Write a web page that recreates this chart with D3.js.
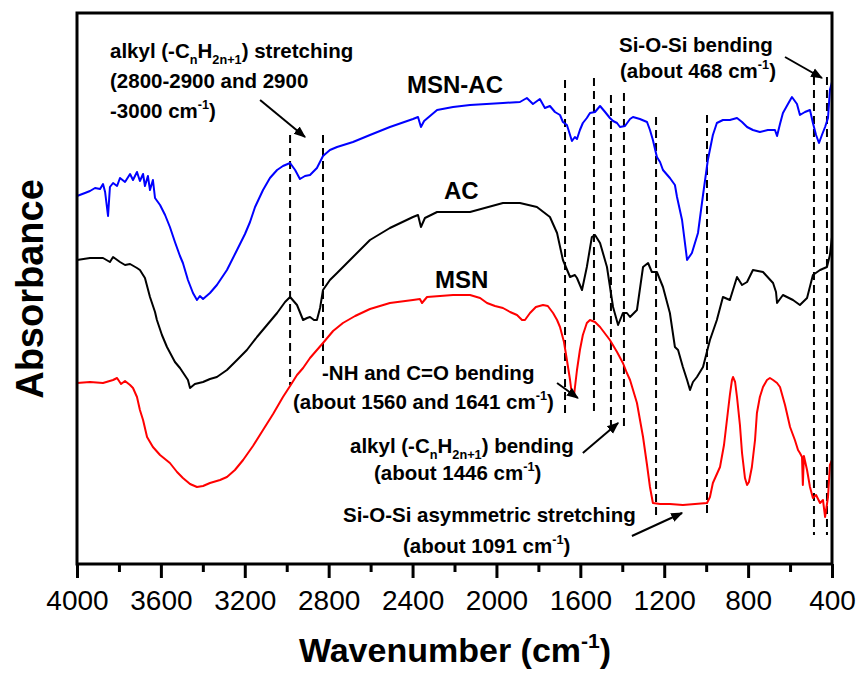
<!DOCTYPE html>
<meta charset="utf-8">
<style>
  body { margin: 0; background: #fff; }
  .chart text { font-family: "Liberation Sans", Arial, sans-serif; fill: #000; }
  .spec { fill: none; stroke-width: 2px; stroke-linejoin: round; }
  .mark { stroke: #000; stroke-width: 2px; stroke-dasharray: 8,5; }
</style>
<body>
<svg class="chart"></svg>
<script src="https://d3js.org/d3.v7.min.js"></script>
<script>
// data: [wavenumber cm-1, absorbance a.u.]
var msnAc = [
  [4000,3.68],[3962,3.71],[3938,3.73],[3914,3.76],[3890,3.75],[3876,3.80],[3866,3.72],[3852,3.48],
  [3843,3.77],[3828,3.81],[3809,3.78],[3795,3.86],[3771,3.82],[3747,3.90],[3733,3.84],[3714,3.92],
  [3700,3.83],[3685,3.90],[3676,3.78],[3662,3.88],[3652,3.74],[3638,3.84],[3628,3.66],[3604,3.59],
  [3580,3.49],[3557,3.37],[3533,3.22],[3509,3.08],[3495,3.01],[3471,2.84],[3447,2.71],[3428,2.64],
  [3414,2.68],[3399,2.65],[3366,2.71],[3333,2.79],[3285,2.94],[3237,3.14],[3199,3.30],[3175,3.42],
  [3151,3.57],[3113,3.74],[3080,3.86],[3046,3.94],[3018,3.98],[2984,4.01],[2960,3.94],[2937,3.85],
  [2913,3.88],[2889,3.89],[2856,3.96],[2827,4.08],[2794,4.14],[2760,4.17],[2684,4.22],[2603,4.29],
  [2508,4.37],[2398,4.45],[2374,4.47],[2360,4.37],[2345,4.43],[2283,4.54],[2207,4.57],[2126,4.59],
  [1969,4.61],[1888,4.62],[1855,4.66],[1826,4.60],[1793,4.65],[1769,4.56],[1745,4.58],[1721,4.52],
  [1697,4.49],[1683,4.42],[1664,4.39],[1649,4.29],[1640,4.23],[1626,4.27],[1616,4.25],[1602,4.34],
  [1588,4.41],[1569,4.46],[1554,4.51],[1530,4.52],[1506,4.58],[1482,4.52],[1459,4.46],[1444,4.43],
  [1425,4.41],[1411,4.37],[1387,4.38],[1363,4.45],[1349,4.47],[1316,4.45],[1282,4.42],[1268,4.34],
  [1254,4.24],[1235,4.07],[1220,4.02],[1206,3.94],[1173,3.86],[1149,3.79],[1139,3.67],[1115,3.44],
  [1091,3.04],[1068,3.11],[1039,3.31],[1015,3.69],[992,4.04],[968,4.29],[949,4.41],[920,4.44],
  [887,4.44],[853,4.46],[829,4.42],[805,4.37],[777,4.34],[744,4.32],[706,4.34],[672,4.34],
  [662,4.28],[648,4.40],[634,4.51],[610,4.60],[591,4.67],[567,4.60],[553,4.49],[529,4.52],
  [505,4.54],[491,4.41],[476,4.29],[462,4.21],[448,4.29],[433,4.37],[419,4.46],[410,4.74],[400,4.82]
];

var ac = [
  [4000,3.04],[3938,3.06],[3876,3.06],[3843,3.02],[3828,3.07],[3795,3.02],[3771,2.99],[3747,3.00],
  [3714,2.96],[3700,2.94],[3676,2.86],[3652,2.67],[3628,2.52],[3619,2.44],[3595,2.29],[3571,2.17],
  [3533,2.02],[3509,1.96],[3471,1.84],[3461,1.76],[3438,1.80],[3399,1.82],[3366,1.85],[3333,1.87],
  [3285,1.94],[3237,2.04],[3190,2.14],[3142,2.27],[3094,2.39],[3046,2.51],[3008,2.62],[2984,2.67],
  [2951,2.59],[2922,2.44],[2903,2.46],[2889,2.47],[2870,2.44],[2856,2.44],[2841,2.56],[2827,2.74],
  [2794,2.84],[2760,2.91],[2684,3.07],[2603,3.24],[2508,3.36],[2398,3.47],[2374,3.49],[2360,3.37],
  [2341,3.46],[2283,3.52],[2126,3.52],[1969,3.61],[1888,3.61],[1807,3.57],[1745,3.47],[1711,3.31],
  [1683,3.04],[1649,2.87],[1626,2.89],[1616,2.86],[1592,2.74],[1569,2.97],[1545,3.27],[1530,3.29],
  [1506,3.21],[1473,2.97],[1444,2.57],[1420,2.39],[1397,2.51],[1378,2.51],[1363,2.47],[1330,2.54],
  [1301,2.97],[1277,3.01],[1259,2.92],[1235,2.92],[1206,2.77],[1173,2.51],[1149,2.17],[1134,2.14],
  [1111,1.97],[1091,1.84],[1077,1.74],[1063,1.82],[1044,1.87],[1015,1.97],[982,2.24],[949,2.44],
  [920,2.67],[887,2.64],[853,2.87],[829,2.79],[805,2.82],[777,2.94],[729,2.92],[681,2.81],
  [667,2.72],[662,2.61],[634,2.69],[586,2.64],[553,2.59],[519,2.66],[491,2.89],[457,2.94],
  [424,2.97],[410,3.09],[400,3.27]
];

var msn = [
  [4000,1.81],[3938,1.82],[3876,1.81],[3828,1.84],[3809,1.86],[3790,1.80],[3771,1.83],[3747,1.79],
  [3733,1.76],[3714,1.67],[3700,1.54],[3685,1.44],[3666,1.27],[3638,1.17],[3604,1.09],[3557,1.01],
  [3523,0.92],[3495,0.86],[3461,0.80],[3428,0.77],[3399,0.78],[3366,0.81],[3318,0.84],[3285,0.87],
  [3247,0.94],[3208,1.04],[3161,1.18],[3113,1.34],[3065,1.50],[3018,1.67],[2984,1.78],[2951,1.89],
  [2922,1.96],[2889,2.06],[2827,2.21],[2779,2.33],[2732,2.41],[2674,2.48],[2603,2.55],[2508,2.61],
  [2398,2.64],[2365,2.65],[2355,2.61],[2331,2.67],[2269,2.68],[2207,2.69],[2126,2.69],[2078,2.66],
  [2045,2.61],[2007,2.58],[1969,2.56],[1935,2.52],[1902,2.49],[1878,2.44],[1864,2.44],[1840,2.51],
  [1812,2.57],[1778,2.59],[1755,2.58],[1730,2.51],[1711,2.44],[1697,2.37],[1678,2.22],[1664,2.04],
  [1649,1.84],[1640,1.69],[1630,1.69],[1616,1.94],[1602,2.14],[1588,2.29],[1569,2.41],[1554,2.44],
  [1530,2.42],[1506,2.37],[1459,2.24],[1425,2.12],[1397,2.01],[1378,1.91],[1363,1.84],[1330,1.61],
  [1301,1.27],[1282,0.99],[1268,0.77],[1254,0.61],[1220,0.60],[1173,0.60],[1111,0.59],[1053,0.60],
  [996,0.61],[982,0.67],[968,0.81],[934,0.97],[915,1.19],[901,1.44],[887,1.69],[877,1.84],
  [872,1.87],[862,1.82],[853,1.67],[839,1.39],[829,1.11],[815,0.86],[805,0.79],[796,0.82],
  [782,0.97],[767,1.24],[758,1.51],[744,1.67],[729,1.77],[710,1.84],[696,1.86],[681,1.84],
  [662,1.81],[648,1.77],[624,1.59],[600,1.37],[577,1.24],[562,1.14],[553,1.11],[543,1.07],
  [539,0.79],[534,1.08],[519,0.94],[505,0.77],[491,0.66],[476,0.69],[457,0.61],[443,0.64],
  [433,0.47],[419,0.67],[410,0.99],[400,1.04]
];

var seriesNames = ["MSN-AC", "AC", "MSN"];
var seriesColors = ["#0000ff", "#000000", "#ff0000"];

var majorTicks = [4000, 3600, 3200, 2800, 2400, 2000, 1600, 1200, 800, 400];
var minorTicks = [3800, 3400, 3000, 2600, 2200, 1800, 1400, 1000, 600];

// dashed band markers: [wavenumber, top, bottom]
var markers = [
  [2984,4.29,1.79],[2827,4.29,1.96],[1673,4.84,1.51],[1535,4.86,1.52],[1454,4.69,1.39],
  [1392,4.71,1.34],[1239,4.47,0.47],[996,4.49,0.49],[486,4.87,0.29],[424,4.87,0.29]
];

// arrows: [x1, y1, x2, y2] in data units
var arrows = [
  [3127,4.64,2913,4.27],[624,5.07,448,4.86],[1711,1.81,1612,1.66],
  [1588,1.11,1420,1.41],[1354,0.28,1115,0.51]
];

//setting up the chart area

var w = 861, h = 679;
var padL = 77, padR = 832, padT = 13, padB = 564;

var svg = d3.select(".chart").attr("width", w).attr("height", h);

var x = d3.scaleLinear().domain([4000, 400]).range([padL, padR]);
var y = d3.scaleLinear().domain([0, 5.51]).range([padB, padT]);

svg.append("defs").append("marker")
    .attr("id", "head")
    .attr("viewBox", "0 0 10 10")
    .attr("refX", 9).attr("refY", 5)
    .attr("markerWidth", 6).attr("markerHeight", 6)
    .attr("orient", "auto")
  .append("path")
    .attr("d", "M0,1L10,5L0,9Z")
    .attr("fill", "#000");

// dashed marker lines
svg.selectAll(".mark")
    .data(markers)
    .enter().append("line")
    .attr("class", "mark")
    .attr("x1", function (d) { return x(d[0]); })
    .attr("x2", function (d) { return x(d[0]); })
    .attr("y1", function (d) { return y(d[1]); })
    .attr("y2", function (d) { return y(d[2]); });

// spectra
var line = d3.line()
    .x(function (d) { return x(d[0]); })
    .y(function (d) { return y(d[1]); });

svg.selectAll(".spec")
    .data([msnAc, ac, msn])
    .enter().append("path")
    .attr("class", "spec")
    .attr("stroke", function (d, i) { return seriesColors[i]; })
    .attr("d", line);

// arrows
svg.selectAll(".arrow")
    .data(arrows)
    .enter().append("line")
    .attr("class", "arrow")
    .attr("stroke", "#000")
    .attr("stroke-width", 2)
    .attr("marker-end", "url(#head)")
    .attr("x1", function (d) { return x(d[0]); })
    .attr("y1", function (d) { return y(d[1]); })
    .attr("x2", function (d) { return x(d[2]); })
    .attr("y2", function (d) { return y(d[3]); });

// frame and axis
svg.append("rect")
    .attr("x", padL).attr("y", padT)
    .attr("width", padR - padL).attr("height", padB - padT)
    .attr("fill", "none").attr("stroke", "#000").attr("stroke-width", 3);

var xAxis = svg.append("g")
    .attr("transform", "translate(0," + padB + ")")
    .call(d3.axisBottom(x).tickValues(majorTicks).tickSize(14).tickPadding(12).tickFormat(d3.format("d")));
xAxis.select(".domain").remove();
xAxis.selectAll("line").attr("stroke-width", 3);
xAxis.selectAll("text").attr("font-size", 28).attr("font-family", "Liberation Sans, Arial, sans-serif");

var xMinor = svg.append("g")
    .attr("transform", "translate(0," + padB + ")")
    .call(d3.axisBottom(x).tickValues(minorTicks).tickSize(8).tickFormat(""));
xMinor.select(".domain").remove();
xMinor.selectAll("line").attr("stroke-width", 3);

// rich text helper (sub / sup)
function rich(px, py, parts, size, anchor, weight) {
    var t = svg.append("text")
        .attr("x", px).attr("y", py)
        .attr("font-size", size)
        .attr("font-weight", weight || "bold")
        .attr("text-anchor", anchor || "start");
    var shift = 0;
    parts.forEach(function (p) {
        var str = typeof p === "string" ? p : p[0];
        var kind = typeof p === "string" ? null : p[1];
        var target = kind === "sub" ? size * 0.3 : kind === "sup" ? -size * 0.42 : 0;
        t.append("tspan")
            .attr("dy", target - shift)
            .attr("font-size", kind ? size * 0.62 : size)
            .text(str);
        shift = target;
    });
    return t;
}

// axis titles
rich(455, 662, ["Wavenumber (cm", ["-1", "sup"], ")"], 34, "middle");
svg.append("text")
    .attr("transform", "translate(43,289) rotate(-90)")
    .attr("text-anchor", "middle")
    .attr("font-size", 38)
    .attr("font-weight", "bold")
    .text("Absorbance");

// series labels
rich(407, 93, [seriesNames[0]], 24);
rich(444, 199, [seriesNames[1]], 24);
rich(435, 288, [seriesNames[2]], 24);

// annotations
var fs = 20.5;
rich(110, 58, ["alkyl (-C", ["n", "sub"], "H", ["2n+1", "sub"], ") stretching"], fs);
rich(110, 88, ["(2800-2900 and 2900"], fs);
rich(110, 118, ["-3000 cm", ["-1", "sup"], ")"], fs);
rich(619, 52, ["Si-O-Si bending"], fs);
rich(620, 78, ["(about 468 cm", ["-1", "sup"], ")"], fs);
rich(322, 380, ["-NH and C=O bending"], fs);
rich(293, 409, ["(about 1560 and 1641 cm", ["-1", "sup"], ")"], fs);
rich(350, 453, ["alkyl (-C", ["n", "sub"], "H", ["2n+1", "sub"], ") bending"], fs);
rich(374, 480, ["(about 1446 cm", ["-1", "sup"], ")"], fs);
rich(343, 522, ["Si-O-Si asymmetric stretching"], fs);
rich(403, 553, ["(about 1091 cm", ["-1", "sup"], ")"], fs);
</script>
</body>
